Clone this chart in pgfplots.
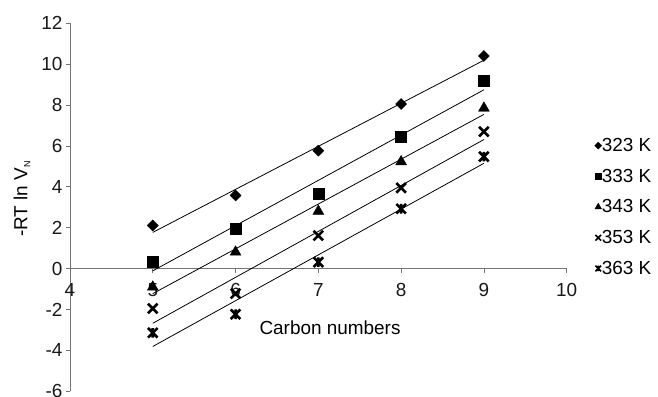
\documentclass[border=0pt]{standalone}
\usepackage{fontspec}
\setmainfont{Liberation Sans}
\usepackage{pgfplots}
\pgfplotsset{compat=1.18}

\pgfdeclareplotmark{xcross}{%
  \pgfpathmoveto{\pgfqpoint{-\pgfplotmarksize}{-\pgfplotmarksize}}%
  \pgfpathlineto{\pgfqpoint{\pgfplotmarksize}{\pgfplotmarksize}}%
  \pgfpathmoveto{\pgfqpoint{-\pgfplotmarksize}{\pgfplotmarksize}}%
  \pgfpathlineto{\pgfqpoint{\pgfplotmarksize}{-\pgfplotmarksize}}%
  \pgfusepathqstroke}
\pgfdeclareplotmark{xstar}{%
  \pgfpathmoveto{\pgfqpoint{-\pgfplotmarksize}{-\pgfplotmarksize}}%
  \pgfpathlineto{\pgfqpoint{\pgfplotmarksize}{\pgfplotmarksize}}%
  \pgfpathmoveto{\pgfqpoint{-\pgfplotmarksize}{\pgfplotmarksize}}%
  \pgfpathlineto{\pgfqpoint{\pgfplotmarksize}{-\pgfplotmarksize}}%
  \pgfpathmoveto{\pgfqpoint{0pt}{-\pgfplotmarksize}}%
  \pgfpathlineto{\pgfqpoint{0pt}{\pgfplotmarksize}}%
  \pgfusepathqstroke}

\newcommand{\chartfont}{\fontsize{19}{22}\selectfont}

\begin{document}
\begin{tikzpicture}
\begin{axis}[
  scale only axis, width=496.7bp, height=368bp,
  xmin=4, xmax=10, ymin=-6, ymax=12,
  axis x line*=middle, axis y line*=left,
  hide obscured x ticks=false, hide obscured y ticks=false,
  xtick={4,5,...,10}, ytick={-6,-4,...,12},
  tick align=outside, major tick length=4bp,
  axis line style={black!55, line width=0.8bp},
  tick style={black!55, line width=0.8bp},
  /pgf/number format/assume math mode=true,
  every tick label/.append style={font=\chartfont, text=black!90},
  xticklabel style={yshift=-7bp},
  xlabel={Carbon numbers},
  xlabel style={at={(axis description cs:0.5235,0.172)}, anchor=center, font=\chartfont},
  ylabel={-RT ln V\raisebox{-0.3ex}{\fontsize{9}{9}\selectfont N}},
  ylabel style={at={(axis description cs:-0.0966,0.5226)}, anchor=center, font=\chartfont},
  legend style={at={(axis description cs:1.056,0.5008)}, anchor=west, draw=none, fill=none,
    font=\chartfont, row sep=16bp, inner sep=0pt,
    nodes={inner sep=0pt},
    /tikz/every even column/.append style={column sep=1.5bp}},
  legend cell align=left,
  legend image code/.code={\draw[#1] plot coordinates {(0bp,0bp)};},
]
% data points
\addplot[only marks, mark=square*, mark size=3.9bp, mark options={rotate=45, fill=black}, forget plot]
  coordinates {(5,2.11) (6,3.58) (7,5.77) (8,8.05) (9,10.40)};
\addplot[only marks, mark=square*, mark size=5.5bp, mark options={fill=black}, forget plot]
  coordinates {(5,0.36) (6,1.95) (7,3.65) (8,6.45) (9,9.18)};
\addplot[only marks, mark=triangle*, mark size=6.3bp, mark options={fill=black}, forget plot]
  coordinates {(5,-0.90) (6,0.81) (7,2.81) (8,5.23) (9,7.85)};
\addplot[only marks, mark=xcross, mark size=4.8bp, mark options={line width=2.6bp}, forget plot]
  coordinates {(5,-1.95) (6,-1.22) (7,1.62) (8,3.95) (9,6.70)};
\addplot[only marks, mark=xstar, mark size=4.8bp, mark options={line width=2.6bp}, forget plot]
  coordinates {(5,-3.14) (6,-2.23) (7,0.32) (8,2.93) (9,5.48)};
% trend lines
\addplot[black, line width=0.8bp, forget plot] coordinates {(5,1.772) (9,10.192)};
\addplot[black, line width=0.8bp, forget plot] coordinates {(5,-0.110) (9,8.746)};
\addplot[black, line width=0.8bp, forget plot] coordinates {(5,-1.224) (9,7.544)};
\addplot[black, line width=0.8bp, forget plot] coordinates {(5,-2.674) (9,6.314)};
\addplot[black, line width=0.8bp, forget plot] coordinates {(5,-3.808) (9,5.152)};
% legend
\addlegendimage{only marks, mark=square*, mark size=2.5bp, mark options={rotate=45, fill=black}}
\addlegendentry{323 K}
\addlegendimage{only marks, mark=square*, mark size=3.3bp, mark options={fill=black}}
\addlegendentry{333 K}
\addlegendimage{only marks, mark=triangle*, mark size=3.8bp, mark options={fill=black}}
\addlegendentry{343 K}
\addlegendimage{only marks, mark=xcross, mark size=2.8bp, mark options={line width=1.6bp}}
\addlegendentry{353 K}
\addlegendimage{only marks, mark=xstar, mark size=2.8bp, mark options={line width=1.6bp}}
\addlegendentry{363 K}
\coordinate (bbll) at (axis description cs:-0.1409,-0.0128);
\coordinate (bbur) at (axis description cs:1.1838,1.0633);
\end{axis}
\pgfresetboundingbox
\useasboundingbox (bbll) rectangle (bbur);
\end{tikzpicture}
\end{document}
